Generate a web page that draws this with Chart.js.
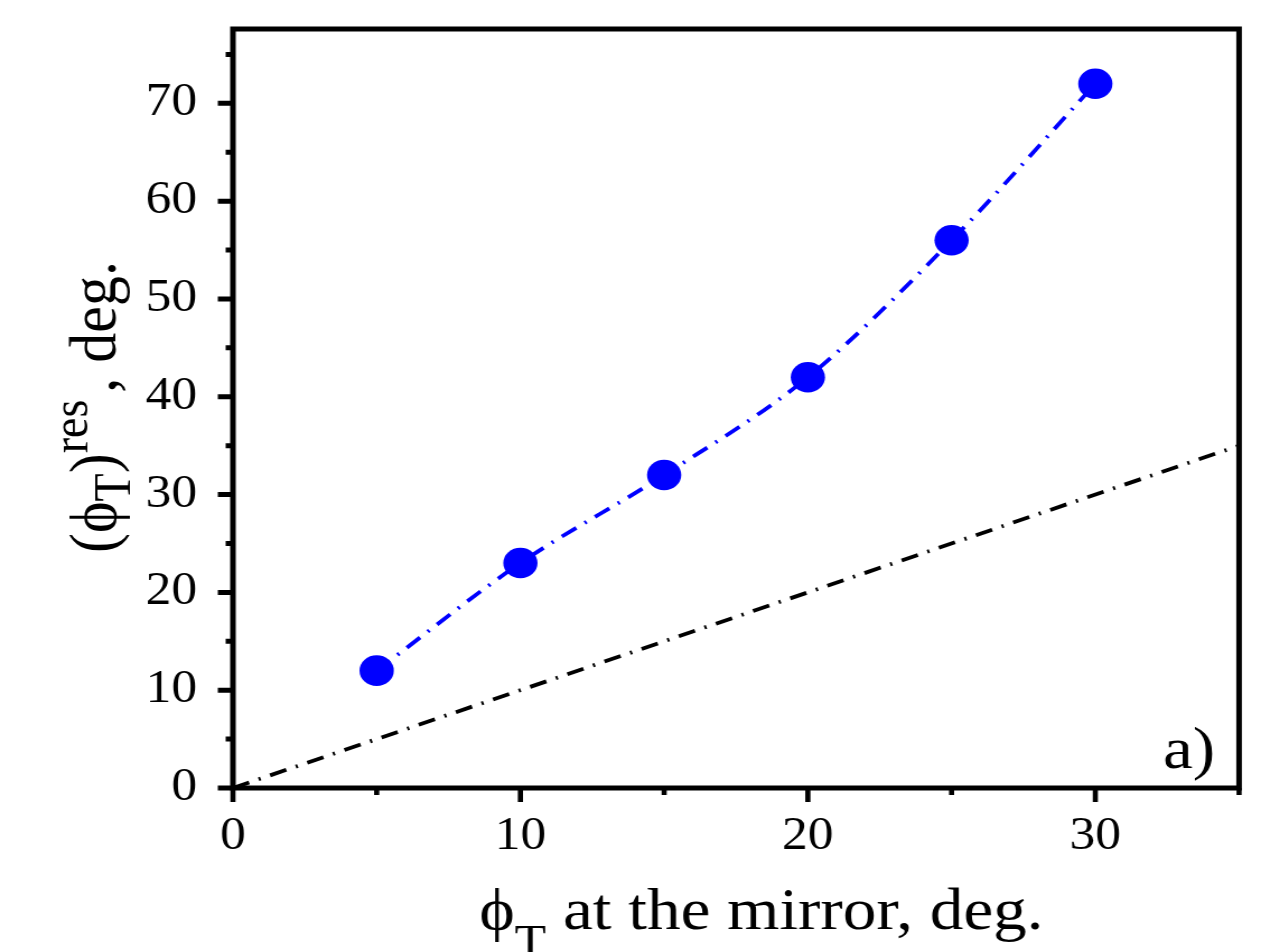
<!DOCTYPE html>
<html><head><meta charset="utf-8">
<script src="https://cdn.jsdelivr.net/npm/chart.js@4"></script>
<style>html,body{margin:0;padding:0;background:#fff;overflow:hidden}</style>
</head><body>
<canvas id="c" width="1126" height="952" style="width:1261px;height:952px;display:block"></canvas>
<script>
// ---- data ----
const xValues = [5, 10, 15, 20, 25, 30];
const yValues = [12, 23, 32, 42, 56, 72];
const refLineX = [0, 35];
const refLineY = [0, 35];
const xRange = [0, 35];
const yRange = [0, 77.6];
const majorStep = 10;
const minorStep = 5;
const xTitleParts = [{t: 'ϕ'}, {t: 'T', sub: true}, {t: ' at the mirror, deg.'}];
const yTitleParts = [{t: '('}, {t: 'ϕ'}, {t: 'T', sub: true}, {t: ')'}, {t: 'res', sup: true}, {t: ', deg.', gap: 7}];
const panelLabel = 'a)';

const FONT = '"Liberation Serif", "Times New Roman", serif';

const mainData = xValues.map((x, i) => ({x: x, y: yValues[i]}));
const refData = refLineX.map((x, i) => ({x: x, y: refLineY[i]}));

function drawParts(ctx, parts, x, y, mainSize, subSize, subDy, supDy) {
  let cx = x;
  for (const p of parts) {
    const size = (p.sub || p.sup) ? subSize : mainSize;
    ctx.font = size + 'px ' + FONT;
    const dy = p.sub ? subDy : (p.sup ? -supDy : 0);
    cx += p.gap || 0;
    ctx.fillText(p.t, cx, y + dy);
    cx += ctx.measureText(p.t).width;
  }
}

const framePlugin = {
  id: 'frame',
  afterDraw(chart) {
    const ctx = chart.ctx;
    const a = chart.chartArea;
    const xs = chart.scales.x, ys = chart.scales.y;
    ctx.save();
    ctx.strokeStyle = '#000';
    ctx.fillStyle = '#000';
    ctx.lineWidth = 5;
    ctx.strokeRect(a.left, a.top, a.right - a.left, a.bottom - a.top);
    // x ticks
    ctx.lineWidth = 4.6;
    ctx.beginPath();
    for (let v = xRange[0]; v <= xRange[1] + 1e-9; v += minorStep) {
      const px = xs.getPixelForValue(v);
      const major = Math.abs(v % majorStep) < 1e-9;
      ctx.moveTo(px, a.bottom);
      ctx.lineTo(px, a.bottom + (major ? 14 : 7));
    }
    ctx.stroke();
    // y ticks
    ctx.lineWidth = 5;
    ctx.beginPath();
    for (let v = yRange[0]; v <= yRange[1] + 1e-9; v += minorStep) {
      const py = ys.getPixelForValue(v);
      const major = Math.abs(v % majorStep) < 1e-9;
      ctx.moveTo(a.left, py);
      ctx.lineTo(a.left - (major ? 13.5 : 6.5), py);
    }
    ctx.stroke();
    // titles
    ctx.textBaseline = 'alphabetic';
    ctx.textAlign = 'left';
    drawParts(ctx, xTitleParts, 428, 929, 60, 46, 28, 0);
    ctx.save();
    ctx.translate(103, 553);
    ctx.rotate(-Math.PI / 2);
    drawParts(ctx, yTitleParts, 0, 0, 60, 46, 12.5, 25);
    ctx.restore();
    // panel label
    ctx.font = '60px ' + FONT;
    ctx.textAlign = 'right';
    ctx.fillText(panelLabel, 1085, 768);
    ctx.restore();
  }
};

new Chart(document.getElementById('c'), {
  type: 'scatter',
  data: {
    datasets: [
      {
        label: 'reference',
        data: refData,
        showLine: true,
        borderColor: '#000',
        borderWidth: 3.8,
        borderDash: [15.5, 9, 2, 9],
        pointRadius: 0,
        pointHoverRadius: 0,
        order: 2
      },
      {
        label: 'result',
        data: mainData,
        showLine: true,
        borderColor: '#0000ff',
        backgroundColor: '#0000ff',
        borderWidth: 3.8,
        borderDash: [15.5, 9, 2, 9],
        cubicInterpolationMode: 'monotone',
        pointRadius: 15.3,
        pointBorderWidth: 0,
        pointBackgroundColor: '#0000ff',
        pointBorderColor: '#0000ff',
        order: 1
      }
    ]
  },
  plugins: [framePlugin],
  options: {
    responsive: false,
    devicePixelRatio: 1,
    animation: false,
    events: [],
    layout: {padding: {top: 29, right: 19.6, bottom: 0, left: 0}},
    plugins: {legend: {display: false}, tooltip: {enabled: false}},
    scales: {
      x: {
        type: 'linear',
        min: xRange[0], max: xRange[1],
        afterFit(s) { s.height = 164; s.paddingLeft = 0; s.paddingRight = 0; },
        grid: {display: false},
        border: {display: false},
        ticks: {stepSize: majorStep, includeBounds: false, color: '#000', padding: 13, maxRotation: 0,
                font: {family: FONT, size: 46}}
      },
      y: {
        type: 'linear',
        min: yRange[0], max: yRange[1],
        afterFit(s) { s.width = 208; s.paddingTop = 0; s.paddingBottom = 0; },
        grid: {display: false},
        border: {display: false},
        ticks: {stepSize: majorStep, includeBounds: false, color: '#000', padding: 24,
                font: {family: FONT, size: 46}}
      }
    }
  }
});
</script>
</body></html>
